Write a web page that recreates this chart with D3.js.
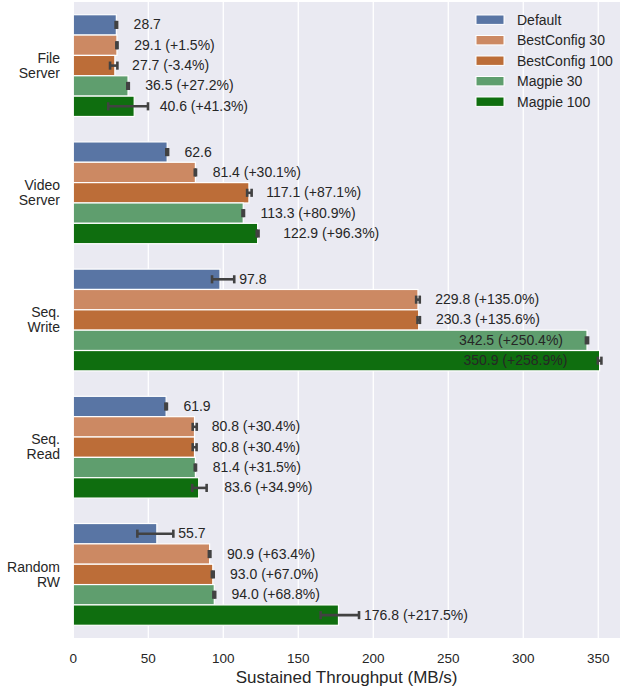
<!DOCTYPE html>
<html>
<head>
<meta charset="utf-8">
<script src="https://cdn.jsdelivr.net/npm/d3@7"></script>
<style>
  body { margin: 0; background: #fff; }
  text { font-family: "Liberation Sans", Arial, sans-serif; fill: #262626; }
</style>
</head>
<body>
<div id="container"></div>
<script>
// chart values
const categories = ["File Server", "Video Server", "Seq. Write", "Seq. Read", "Random RW"];
const series = ["Default", "BestConfig 30", "BestConfig 100", "Magpie 30", "Magpie 100"];
const seriesColors = ["#5975a4", "#cc8963", "#bc6d38", "#5f9e6e", "#0f6e0f"];
const xTicks = [0, 50, 100, 150, 200, 250, 300, 350];

const defaultVals = [28.7, 62.6, 97.8, 61.9, 55.7];
const best30Vals = [29.1, 81.4, 229.8, 80.8, 90.9];
const best100Vals = [27.7, 117.1, 230.3, 80.8, 93.0];
const magpie30Vals = [36.5, 113.3, 342.5, 81.4, 94.0];
const magpie100Vals = [40.6, 122.9, 350.9, 83.6, 176.8];

// error bar lows / highs
const defaultLo = [28.2, 62.0, 92.5, 61.4, 42.7];
const defaultHi = [29.2, 63.2, 107.3, 62.4, 66.7];
const best30Lo = [28.7, 81.0, 228.6, 79.6, 90.4];
const best30Hi = [29.5, 81.8, 231.0, 82.3, 91.4];
const best100Lo = [24.5, 115.9, 229.5, 79.6, 92.4];
const best100Hi = [29.4, 118.9, 231.1, 82.2, 93.6];
const magpie30Lo = [36.0, 112.8, 341.8, 81.0, 93.4];
const magpie30Hi = [37.0, 113.8, 343.2, 81.8, 94.6];
const magpie100Lo = [23.3, 122.3, 349.7, 79.3, 164.9];
const magpie100Hi = [49.8, 123.5, 352.1, 88.9, 190.5];

// percent change vs default, as printed
const best30Pct = [1.5, 30.1, 135.0, 30.4, 63.4];
const best100Pct = [-3.4, 87.1, 135.6, 30.4, 67.0];
const magpie30Pct = [27.2, 80.9, 250.4, 31.5, 68.8];
const magpie100Pct = [41.3, 96.3, 258.9, 34.9, 217.5];

const allVals = [defaultVals, best30Vals, best100Vals, magpie30Vals, magpie100Vals];
const allLo = [defaultLo, best30Lo, best100Lo, magpie30Lo, magpie100Lo];
const allHi = [defaultHi, best30Hi, best100Hi, magpie30Hi, magpie100Hi];
const allPct = [null, best30Pct, best100Pct, magpie30Pct, magpie100Pct];

const width = 621, height = 689;
const margin = { top: 2, right: 1, bottom: 51, left: 73.3 };

let rows = [];
categories.forEach((c, ci) => {
  series.forEach((s, si) => {
    rows.push({
      cat: c, series: s, si: si,
      value: allVals[si][ci], lo: allLo[si][ci], hi: allHi[si][ci],
      pct: allPct[si] ? allPct[si][ci] : null
    });
  });
});

const svg = d3.select("#container").append("svg")
  .attr("width", width)
  .attr("height", height);

const x = d3.scaleLinear()
  .domain([0, 364.5])
  .range([margin.left, width - margin.right]);

const y = d3.scaleBand()
  .domain(categories)
  .range([margin.top, height - margin.bottom])
  .paddingInner(0.2)
  .paddingOuter(0.1);

const yInner = d3.scaleBand()
  .domain(series)
  .range([0, y.bandwidth()]);

const color = d3.scaleOrdinal().domain(series).range(seriesColors);

// background
svg.append("rect")
  .attr("x", margin.left)
  .attr("y", margin.top)
  .attr("width", width - margin.right - margin.left)
  .attr("height", height - margin.bottom - margin.top)
  .attr("fill", "#eaeaf2");

// vertical grid
svg.selectAll(".grid")
  .data(xTicks)
  .join("line")
  .attr("class", "grid")
  .attr("x1", d => x(d)).attr("x2", d => x(d))
  .attr("y1", margin.top).attr("y2", height - margin.bottom)
  .attr("stroke", "#fff")
  .attr("stroke-width", 1.3);

// bars
svg.selectAll(".bar")
  .data(rows)
  .join("rect")
  .attr("class", "bar")
  .attr("x", x(0))
  .attr("y", d => y(d.cat) + yInner(d.series))
  .attr("width", d => x(d.value) - x(0))
  .attr("height", yInner.bandwidth())
  .attr("fill", d => color(d.series))
  .attr("stroke", "#fff")
  .attr("stroke-width", 1.2);

// error bars
const err = svg.selectAll(".err")
  .data(rows)
  .join("g")
  .attr("class", "err")
  .attr("stroke", "#424242")
  .attr("stroke-width", 2.6);

const cy = d => y(d.cat) + yInner(d.series) + yInner.bandwidth() / 2;
const cap = yInner.bandwidth() * 0.2;

err.append("line")
  .attr("x1", d => x(d.lo)).attr("x2", d => x(d.hi))
  .attr("y1", cy).attr("y2", cy);
err.append("line")
  .attr("x1", d => x(d.lo)).attr("x2", d => x(d.lo))
  .attr("y1", d => cy(d) - cap).attr("y2", d => cy(d) + cap);
err.append("line")
  .attr("x1", d => x(d.hi)).attr("x2", d => x(d.hi))
  .attr("y1", d => cy(d) - cap).attr("y2", d => cy(d) + cap);

// value labels
const fmtPct = p => (p >= 0 ? "+" : "") + p.toFixed(1) + "%";
const labelText = d => d.value.toFixed(1) + (d.pct === null ? "" : " (" + fmtPct(d.pct) + ")");

svg.selectAll(".val")
  .data(rows)
  .join("text")
  .attr("class", "val")
  .style("font-size", "14px")
  .attr("dy", "0.32em")
  .attr("y", cy)
  .text(labelText)
  .each(function(d) {
    const off = d.si === 4 ? 17 : 11.5;
    const w = this.getComputedTextLength();
    let px = Math.max(x(d.value + off), x(d.hi) + 5);
    if (px + w > width - margin.right) {
      // no room on the right: put it inside the bar
      d3.select(this)
        .attr("text-anchor", "end")
        .attr("x", x(d.value - off - 4.5));
    } else {
      d3.select(this).attr("x", px);
    }
  });

// x axis ticks
svg.selectAll(".xtick")
  .data(xTicks)
  .join("text")
  .attr("class", "xtick")
  .attr("x", d => x(d))
  .attr("y", 663)
  .attr("text-anchor", "middle")
  .style("font-size", "13.5px")
  .text(d => d);

svg.append("text")
  .attr("x", x(0) + (width - margin.right - x(0)) / 2)
  .attr("y", 683)
  .attr("text-anchor", "middle")
  .style("font-size", "17px")
  .text("Sustained Throughput (MB/s)");

// category labels, two lines each
const catLabels = svg.selectAll(".cat")
  .data(categories)
  .join("text")
  .attr("class", "cat")
  .attr("text-anchor", "end")
  .style("font-size", "14px")
  .attr("y", d => y(d) + y.bandwidth() / 2);

catLabels.selectAll("tspan")
  .data(d => d.split(" "))
  .join("tspan")
  .attr("x", 60)
  .attr("dy", (d, i) => i === 0 ? "-0.2em" : "1.07em")
  .text(d => d);

// legend
const legend = svg.append("g").attr("transform", "translate(476,19.7)");
const li = legend.selectAll("g")
  .data(series)
  .join("g")
  .attr("transform", (d, i) => `translate(0,${i * 20.5})`);

li.append("rect")
  .attr("x", 0).attr("y", -4.7)
  .attr("width", 28).attr("height", 9.4)
  .attr("fill", d => color(d))
  .attr("stroke", "#fff")
  .attr("stroke-width", 1);

li.append("text")
  .attr("x", 41)
  .attr("dy", "0.35em")
  .style("font-size", "14px")
  .text(d => d);
</script>
</body>
</html>
